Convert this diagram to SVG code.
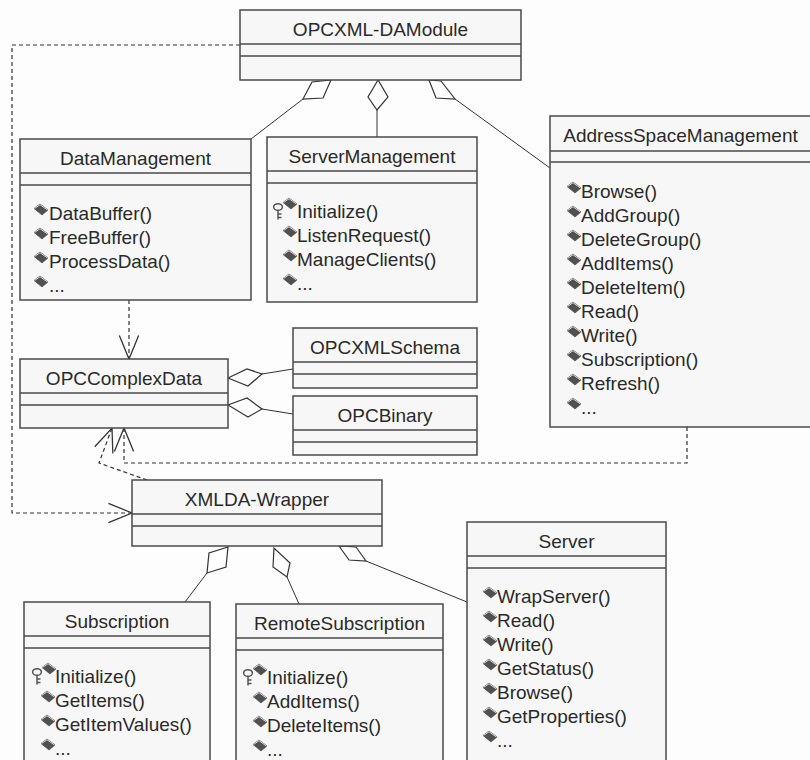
<svg xmlns="http://www.w3.org/2000/svg" xmlns:xlink="http://www.w3.org/1999/xlink" width="810" height="760" viewBox="0 0 810 760">
  <style>
    .box { fill: #f7f7f7; stroke: #4a4a4a; stroke-width: 1.5; }
    .sep { stroke: #4a4a4a; stroke-width: 1.5; }
    .name { font-family: "Liberation Sans", Arial, sans-serif; font-size: 19px; fill: #2a2a2a; text-anchor: middle; }
    .op { font-family: "Liberation Sans", Arial, sans-serif; font-size: 19px; fill: #2a2a2a; }
    .assoc { fill: none; stroke: #333; stroke-width: 1; }
    .agg { fill: #fff; stroke: #333; stroke-width: 1.2; }
    .dep { fill: none; stroke: #333; stroke-width: 1.2; stroke-dasharray: 4 3; }
  </style>
  <defs>
    <!-- operation bullet: dark rhombus with light top edges -->
    <g id="opicon">
      <polygon points="0,4.5 6,0 14,6 8,11" fill="#505050" stroke="#404040" stroke-width="0.6"/>
      <polyline points="0.6,4.5 6,0.7 13.4,6" fill="none" stroke="#d8d8d8" stroke-width="1"/>
    </g>
    <!-- key icon marking the constructor-like operation -->
    <g id="keyicon" fill="none" stroke="#555" stroke-width="1.5">
      <ellipse cx="5" cy="4" rx="4.4" ry="3.3"/>
      <line x1="5" y1="7.3" x2="5" y2="16.5"/>
      <line x1="5" y1="11" x2="8.5" y2="11"/>
      <line x1="5" y1="14.5" x2="8.5" y2="14.5"/>
    </g>
    <marker id="open" markerUnits="userSpaceOnUse" markerWidth="30" markerHeight="30" viewBox="-25 -12 28 24" refX="0" refY="0" orient="auto">
      <path d="M-22,-9 L0,0 L-22,9" fill="none" stroke="#333" stroke-width="1.2"/>
    </marker>
  </defs>

  <rect width="810" height="760" fill="#fdfdfd"/>

  <!-- connectors -->
  <g id="connectors">
    <!-- aggregations to OPCXML-DAModule -->
    <polygon class="agg" points="331,80 312,82 303,99 323,98"/>
    <line class="assoc" x1="303" y1="99" x2="251" y2="139"/>
    <polygon class="agg" points="378,80 368,97 377,110 388,97"/>
    <line class="assoc" x1="377" y1="110" x2="377" y2="137"/>
    <polygon class="agg" points="429,80 436,98 455,99 441,81"/>
    <line class="assoc" x1="455" y1="99" x2="550" y2="168"/>

    <!-- aggregations to OPCComplexData -->
    <polygon class="agg" points="228,378 247,369 262,374 248,386"/>
    <line class="assoc" x1="262" y1="374" x2="293" y2="369"/>
    <polygon class="agg" points="228,405 247,398 262,409 248,417"/>
    <line class="assoc" x1="262" y1="409" x2="293" y2="414"/>

    <!-- aggregations to XMLDA-Wrapper -->
    <polygon class="agg" points="228,547 209,553 207,573 226,567"/>
    <line class="assoc" x1="207" y1="573" x2="185" y2="602"/>
    <polygon class="agg" points="274,548 273,567 287,577 290,563"/>
    <line class="assoc" x1="287" y1="577" x2="299" y2="604"/>
    <polygon class="agg" points="339,546 349,560 366,561 356,547"/>
    <line class="assoc" x1="366" y1="561" x2="467" y2="602"/>

    <!-- dependencies -->
    <polyline class="dep" points="129,300 129,359" marker-end="url(#open)"/>
    <polyline class="dep" points="240,45 12,45 12,513 132,513" marker-end="url(#open)"/>
    <polyline class="dep" points="147,480 99,463 112,428" marker-end="url(#open)"/>
    <polyline class="dep" points="687,427 687,463 124,463 124,428" marker-end="url(#open)"/>
  </g>

  <!-- OPCXML-DAModule -->
  <g id="opcxml-damodule">
    <rect class="box" x="240" y="10" width="281" height="70"/>
    <line class="sep" x1="240" y1="44" x2="521" y2="44"/>
    <line class="sep" x1="240" y1="56" x2="521" y2="56"/>
    <text class="name" x="380.5" y="36">OPCXML-DAModule</text>
  </g>

  <!-- DataManagement -->
  <g id="datamanagement">
    <rect class="box" x="20" y="139" width="231" height="161"/>
    <line class="sep" x1="20" y1="173" x2="251" y2="173"/>
    <line class="sep" x1="20" y1="185" x2="251" y2="185"/>
    <text class="name" x="135.5" y="165">DataManagement</text>
    <use xlink:href="#opicon" x="34" y="204"/>
    <text class="op" x="49" y="220">DataBuffer()</text>
    <use xlink:href="#opicon" x="34" y="228"/>
    <text class="op" x="49" y="244">FreeBuffer()</text>
    <use xlink:href="#opicon" x="34" y="252"/>
    <text class="op" x="49" y="268">ProcessData()</text>
    <use xlink:href="#opicon" x="34" y="276"/>
    <text class="op" x="49" y="292">...</text>
  </g>

  <!-- ServerManagement -->
  <g id="servermanagement">
    <rect class="box" x="267" y="137" width="210" height="165"/>
    <line class="sep" x1="267" y1="171" x2="477" y2="171"/>
    <line class="sep" x1="267" y1="183" x2="477" y2="183"/>
    <text class="name" x="372" y="163">ServerManagement</text>
    <use xlink:href="#keyicon" x="273" y="203"/>
    <use xlink:href="#opicon" x="283" y="198"/>
    <text class="op" x="297" y="218">Initialize()</text>
    <use xlink:href="#opicon" x="283" y="226"/>
    <text class="op" x="297" y="242">ListenRequest()</text>
    <use xlink:href="#opicon" x="283" y="250"/>
    <text class="op" x="297" y="266">ManageClients()</text>
    <use xlink:href="#opicon" x="283" y="274"/>
    <text class="op" x="297" y="290">...</text>
  </g>

  <!-- AddressSpaceManagement -->
  <g id="addressspacemanagement">
    <rect class="box" x="550" y="116" width="262" height="311"/>
    <line class="sep" x1="550" y1="151" x2="812" y2="151"/>
    <line class="sep" x1="550" y1="162" x2="812" y2="162"/>
    <text class="name" x="680.5" y="142">AddressSpaceManagement</text>
    <use xlink:href="#opicon" x="567" y="182"/>
    <text class="op" x="581" y="198">Browse()</text>
    <use xlink:href="#opicon" x="567" y="206"/>
    <text class="op" x="581" y="222">AddGroup()</text>
    <use xlink:href="#opicon" x="567" y="230"/>
    <text class="op" x="581" y="246">DeleteGroup()</text>
    <use xlink:href="#opicon" x="567" y="254"/>
    <text class="op" x="581" y="270">AddItems()</text>
    <use xlink:href="#opicon" x="567" y="278"/>
    <text class="op" x="581" y="294">DeleteItem()</text>
    <use xlink:href="#opicon" x="567" y="302"/>
    <text class="op" x="581" y="318">Read()</text>
    <use xlink:href="#opicon" x="567" y="326"/>
    <text class="op" x="581" y="342">Write()</text>
    <use xlink:href="#opicon" x="567" y="350"/>
    <text class="op" x="581" y="366">Subscription()</text>
    <use xlink:href="#opicon" x="567" y="374"/>
    <text class="op" x="581" y="390">Refresh()</text>
    <use xlink:href="#opicon" x="567" y="398"/>
    <text class="op" x="581" y="414">...</text>
  </g>

  <!-- OPCComplexData -->
  <g id="opccomplexdata">
    <rect class="box" x="20" y="359" width="208" height="69"/>
    <line class="sep" x1="20" y1="393" x2="228" y2="393"/>
    <line class="sep" x1="20" y1="405" x2="228" y2="405"/>
    <text class="name" x="124" y="385">OPCComplexData</text>
  </g>

  <!-- OPCXMLSchema -->
  <g id="opcxmlschema">
    <rect class="box" x="293" y="328" width="184" height="60"/>
    <line class="sep" x1="293" y1="362" x2="477" y2="362"/>
    <line class="sep" x1="293" y1="374" x2="477" y2="374"/>
    <text class="name" x="385" y="354">OPCXMLSchema</text>
  </g>

  <!-- OPCBinary -->
  <g id="opcbinary">
    <rect class="box" x="293" y="396" width="184" height="59"/>
    <line class="sep" x1="293" y1="430" x2="477" y2="430"/>
    <line class="sep" x1="293" y1="442" x2="477" y2="442"/>
    <text class="name" x="385" y="422">OPCBinary</text>
  </g>

  <!-- XMLDA-Wrapper -->
  <g id="xmlda-wrapper">
    <rect class="box" x="132" y="480" width="250" height="66"/>
    <line class="sep" x1="132" y1="514" x2="382" y2="514"/>
    <line class="sep" x1="132" y1="526" x2="382" y2="526"/>
    <text class="name" x="257" y="506">XMLDA-Wrapper</text>
  </g>

  <!-- Subscription -->
  <g id="subscription">
    <rect class="box" x="24" y="602" width="186" height="170"/>
    <line class="sep" x1="24" y1="636" x2="210" y2="636"/>
    <line class="sep" x1="24" y1="648" x2="210" y2="648"/>
    <text class="name" x="117" y="628">Subscription</text>
    <use xlink:href="#keyicon" x="32" y="668"/>
    <use xlink:href="#opicon" x="42" y="663"/>
    <text class="op" x="55" y="683">Initialize()</text>
    <use xlink:href="#opicon" x="41" y="691"/>
    <text class="op" x="55" y="707">GetItems()</text>
    <use xlink:href="#opicon" x="41" y="715"/>
    <text class="op" x="55" y="731">GetItemValues()</text>
    <use xlink:href="#opicon" x="41" y="739"/>
    <text class="op" x="55" y="755">...</text>
  </g>

  <!-- RemoteSubscription -->
  <g id="remotesubscription">
    <rect class="box" x="236" y="604" width="207" height="168"/>
    <line class="sep" x1="236" y1="638" x2="443" y2="638"/>
    <line class="sep" x1="236" y1="650" x2="443" y2="650"/>
    <text class="name" x="339.5" y="630">RemoteSubscription</text>
    <use xlink:href="#keyicon" x="243" y="669"/>
    <use xlink:href="#opicon" x="253" y="664"/>
    <text class="op" x="267" y="684">Initialize()</text>
    <use xlink:href="#opicon" x="253" y="692"/>
    <text class="op" x="267" y="708">AddItems()</text>
    <use xlink:href="#opicon" x="253" y="716"/>
    <text class="op" x="267" y="732">DeleteItems()</text>
    <use xlink:href="#opicon" x="253" y="740"/>
    <text class="op" x="267" y="756">...</text>
  </g>

  <!-- Server -->
  <g id="server">
    <rect class="box" x="467" y="522" width="199" height="250"/>
    <line class="sep" x1="467" y1="556" x2="666" y2="556"/>
    <line class="sep" x1="467" y1="568" x2="666" y2="568"/>
    <text class="name" x="566.5" y="548">Server</text>
    <use xlink:href="#opicon" x="483" y="587"/>
    <text class="op" x="497" y="603">WrapServer()</text>
    <use xlink:href="#opicon" x="483" y="611"/>
    <text class="op" x="497" y="627">Read()</text>
    <use xlink:href="#opicon" x="483" y="635"/>
    <text class="op" x="497" y="651">Write()</text>
    <use xlink:href="#opicon" x="483" y="659"/>
    <text class="op" x="497" y="675">GetStatus()</text>
    <use xlink:href="#opicon" x="483" y="683"/>
    <text class="op" x="497" y="699">Browse()</text>
    <use xlink:href="#opicon" x="483" y="707"/>
    <text class="op" x="497" y="723">GetProperties()</text>
    <use xlink:href="#opicon" x="483" y="731"/>
    <text class="op" x="497" y="747">...</text>
  </g>
</svg>
